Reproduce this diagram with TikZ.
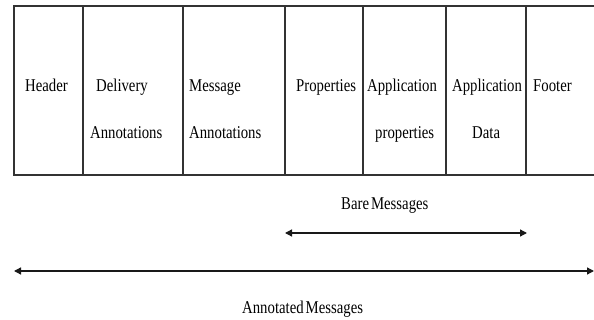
\documentclass[tikz,border=0pt]{standalone}
\usepackage{fontspec}
\setmainfont{Liberation Serif}[FakeStretch=0.82]
\usetikzlibrary{arrows.meta}
\begin{document}
\begin{tikzpicture}[x=1pt,y=-1pt,
  grid/.style={draw=black!80,line width=1.4pt},
  lbl/.style={anchor=base west,inner sep=0pt,font=\fontsize{18}{20}\selectfont},
  span/.style={draw=black!90,line width=1.3pt,{Triangle[length=7pt,width=7pt]}-{Triangle[length=7pt,width=7pt]}}]
\useasboundingbox (0,0) rectangle (594,320);
% table
\draw[grid] (594,6) -- (14,6) -- (14,175) -- (594,175);
\foreach \x in {83,183,285,363,446,526}{\draw[grid] (\x,6) -- (\x,175);}
% cell texts
\node[lbl] (hdr) at (25,92) {Header};
\node[lbl] (del1) at (96,92) {Delivery};
\node[lbl] (del2) at (90,139) {Annotations};
\node[lbl] (msg1) at (189,92) {Message};
\node[lbl] (msg2) at (189,139) {Annotations};
\node[lbl] (prop) at (296,92) {Properties};
\node[lbl] (app1) at (367,92) {Application};
\node[lbl] (app2) at (375,139) {properties};
\node[lbl] (dat1) at (452,92) {Application};
\node[lbl] (dat2) at (472,139) {Data};
\node[lbl] (ftr) at (533,92) {Footer};
% spans
\node[lbl] (bare) at (341,210) {Bare\hspace{2pt}Messages};
\coordinate (bareL) at (285,233);
\coordinate (bareR) at (527,233);
\draw[span] (bareL) -- (bareR);
\coordinate (annL) at (14,271);
\coordinate (annR) at (594,271);
\draw[span] (annL) -- (annR);
\node[lbl] (ann) at (242,313) {Annotated\hspace{2pt}Messages};
\end{tikzpicture}
\end{document}
